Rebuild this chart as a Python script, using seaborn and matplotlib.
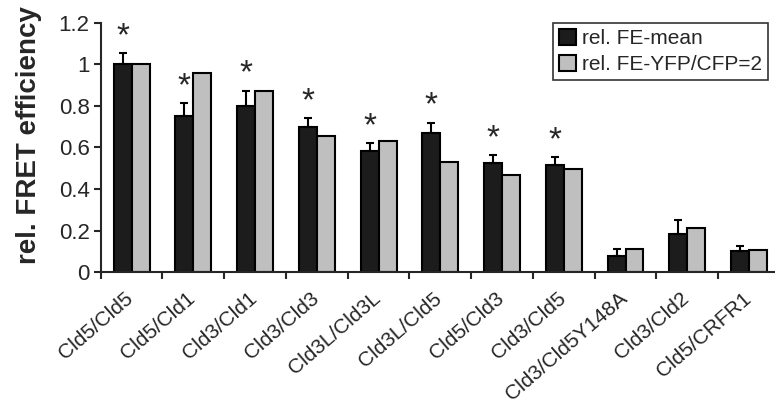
import numpy as np
import pandas as pd
import seaborn as sns
import matplotlib.pyplot as plt
from matplotlib.ticker import FixedLocator
from matplotlib.transforms import ScaledTranslation

# values
pairs = ["Cld5/Cld5", "Cld5/Cld1", "Cld3/Cld1", "Cld3/Cld3", "Cld3L/Cld3L",
         "Cld3L/Cld5", "Cld5/Cld3", "Cld3/Cld5", "Cld3/Cld5Y148A", "Cld3/Cld2",
         "Cld5/CRFR1"]
fe_mean = [1.00, 0.75, 0.80, 0.70, 0.585, 0.67, 0.525, 0.515, 0.076, 0.185, 0.10]
fe_mean_err = [0.055, 0.065, 0.074, 0.04, 0.035, 0.05, 0.037, 0.037, 0.037, 0.068, 0.025]
fe_ratio2 = [1.00, 0.958, 0.87, 0.656, 0.631, 0.528, 0.467, 0.495, 0.111, 0.21, 0.108]
significant = [True] * 8 + [False] * 3

series_names = ["rel. FE-mean", "rel. FE-YFP/CFP=2"]

df = pd.DataFrame({
    "pair": pairs * 2,
    "value": fe_mean + fe_ratio2,
    "series": [series_names[0]] * len(pairs) + [series_names[1]] * len(pairs),
})

sns.set_style("ticks")
plt.rcParams['font.family'] = ['Liberation Sans', 'DejaVu Sans']

fig = plt.figure(figsize=(7.75, 4.03), dpi=100)
ax = fig.add_axes([0.130, 0.325, 0.87, 0.618])

sns.barplot(data=df, x="pair", y="value", hue="series", order=pairs,
            hue_order=series_names, palette=["#1c1c1c", "#bfbfbf"],
            width=0.58, edgecolor="black", linewidth=1.5, ax=ax,
            errorbar=None, saturation=1)

# one-sided error bars and stars on the black bars
black_bars = ax.containers[0]
for bar, v, e, s in zip(black_bars, fe_mean, fe_mean_err, significant):
    xc = bar.get_x() + bar.get_width() / 2
    ax.errorbar(xc, v, yerr=[[0], [e]], fmt="none", ecolor="black",
                elinewidth=1.5, capsize=3, capthick=1.5)
    if s:
        ax.text(xc, v + e + 0.005, "*", ha="center", va="bottom",
                fontsize=24)

ax.set_ylim(0, 1.2)
ax.set_yticks([0, 0.2, 0.4, 0.6, 0.8, 1.0, 1.2])
ax.set_yticklabels(["0", "0.2", "0.4", "0.6", "0.8", "1", "1.2"], fontsize=16)
ax.set_xlim(-0.5, 10.42)

ax.set_xticks(range(len(pairs)))
ax.set_xticklabels(pairs, rotation=41, ha="right", rotation_mode="anchor",
                   fontsize=15)
ax.tick_params(axis="x", which="major", length=0, pad=12)
ax.xaxis.set_minor_locator(FixedLocator(np.arange(-0.5, len(pairs), 1)))
ax.tick_params(axis="x", which="minor", length=5, width=1.5, direction="out")
ax.tick_params(axis="y", length=5, width=1.5, direction="out", pad=3)

# nudge the slanted labels a little to the left
shift = ScaledTranslation(-7 / 100, 0, fig.dpi_scale_trans)
for lbl in ax.get_xticklabels():
    lbl.set_transform(lbl.get_transform() + shift)

ax.set_xlabel("")
ax.set_ylabel("rel. FRET efficiency", fontsize=20, fontweight="bold")
ax.yaxis.set_label_coords(-0.087, 0.55)

for side in ["top", "right"]:
    ax.spines[side].set_visible(False)
for side in ["left", "bottom"]:
    ax.spines[side].set_linewidth(1.5)

leg = ax.legend(loc="upper right", bbox_to_anchor=(0.99, 1.0), fontsize=15,
                frameon=True, fancybox=False, edgecolor="black",
                handlelength=0.8, handleheight=0.8, handletextpad=0.3,
                borderpad=0.3, labelspacing=0.3, borderaxespad=0, title=None)
leg.get_frame().set_linewidth(1.2)

fig.savefig("out.png", dpi=100)
